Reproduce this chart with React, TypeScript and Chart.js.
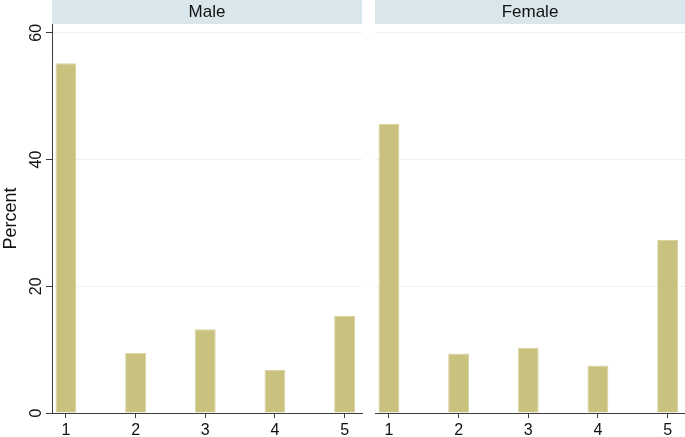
import React, { useEffect, useRef } from "react";
import { Chart, registerables } from "chart.js";

Chart.register(...registerables);

const categories = [1, 2, 3, 4, 5];
const maleValues = [55.2, 9.5, 13.2, 6.8, 15.3];
const femaleValues = [45.6, 9.4, 10.3, 7.5, 27.3];
const yTicks = [0, 20, 40, 60];
const panelTitles = ["Male", "Female"];

const FONT = '"Liberation Sans", Arial, Helvetica, sans-serif';
const BAR = "#C9C27F";
const BAR_EDGE = "#D9D4A2";
const STRIP = "#D9E6EB";
const GRID = "#EAF2F3";
const AXIS = "#3C3C3C";

Chart.defaults.font.family = FONT;
Chart.defaults.font.size = 16;

const stripPlugin = {
  id: "strip",
  beforeDraw(chart: any, _args: any, opts: any) {
    const { ctx, chartArea } = chart;
    ctx.save();
    ctx.fillStyle = STRIP;
    ctx.fillRect(chartArea.left, 0, chartArea.right - chartArea.left, 24);
    ctx.fillStyle = "#111";
    ctx.font = `17px ${FONT}`;
    ctx.textAlign = "center";
    ctx.textBaseline = "middle";
    ctx.fillText(opts.text, (chartArea.left + chartArea.right) / 2, 12.5);
    ctx.restore();
  },
};

function Panel({ values, title, left, width, showY }: any) {
  const ref = useRef<HTMLCanvasElement>(null);
  useEffect(() => {
    if (!ref.current) return;
    const chart = new Chart(ref.current, {
      type: "bar",
      data: {
        datasets: [
          {
            data: categories.map((c, i) => ({ x: c, y: values[i] })),
            backgroundColor: BAR,
            borderColor: BAR_EDGE,
            borderWidth: 1,
            barPercentage: 0.3,
            categoryPercentage: 1,
          },
        ],
      },
      options: {
        animation: false,
        responsive: false,
        devicePixelRatio: 1,
        layout: {
          padding: showY
            ? { top: 24, right: 6, left: 0, bottom: 0 }
            : { top: 24, right: 0, left: 7, bottom: 0 },
        },
        plugins: {
          legend: { display: false },
          tooltip: { enabled: false },
          strip: { text: title },
        } as any,
        scales: {
          x: {
            type: "linear",
            offset: false,
            min: 0.8,
            max: 5.25,
            afterBuildTicks: (s: any) => {
              s.ticks = categories.map((v) => ({ value: v }));
            },
            afterFit: (s: any) => {
              s.height = 24;
            },
            grid: {
              offset: false,
              drawOnChartArea: false,
              drawTicks: true,
              tickLength: 5,
              tickColor: AXIS,
            },
            border: { display: true, color: AXIS, width: 1 },
            ticks: {
              color: "#111",
              font: { family: FONT, size: 16 },
              padding: 3,
              maxRotation: 0,
              minRotation: 0,
            },
          },
          y: {
            type: "linear",
            min: 0,
            max: 61.4,
            afterBuildTicks: (s: any) => {
              s.ticks = yTicks.map((v) => ({ value: v }));
            },
            afterFit: (s: any) => {
              s.width = showY ? 52 : 0;
            },
            grid: {
              color: GRID,
              lineWidth: 1,
              drawTicks: showY,
              tickLength: 6,
              tickColor: AXIS,
            },
            border: { display: showY, color: AXIS, width: 1 },
            title: {
              display: showY,
              text: "Percent",
              color: "#111",
              font: { family: FONT, size: 18 },
              padding: { top: 0, bottom: 0 },
            },
            ticks: {
              display: showY,
              color: "#111",
              font: { family: FONT, size: 16 },
              minRotation: 90,
              maxRotation: 90,
              crossAlign: "center",
              padding: 1,
            },
          },
        },
      },
      plugins: [stripPlugin],
    });
    return () => chart.destroy();
  }, [values, title, showY]);
  return (
    <canvas
      ref={ref}
      width={width}
      height={437}
      style={{ position: "absolute", left, top: 0, width, height: 437 }}
    />
  );
}

export default function App() {
  return (
    <div
      style={{
        position: "absolute",
        left: 0,
        top: 0,
        width: 685,
        height: 437,
        background: "#fff",
        overflow: "hidden",
      }}
    >
      <Panel values={maleValues} title={panelTitles[0]} left={0} width={368} showY={true} />
      <Panel values={femaleValues} title={panelTitles[1]} left={368} width={317} showY={false} />
    </div>
  );
}
